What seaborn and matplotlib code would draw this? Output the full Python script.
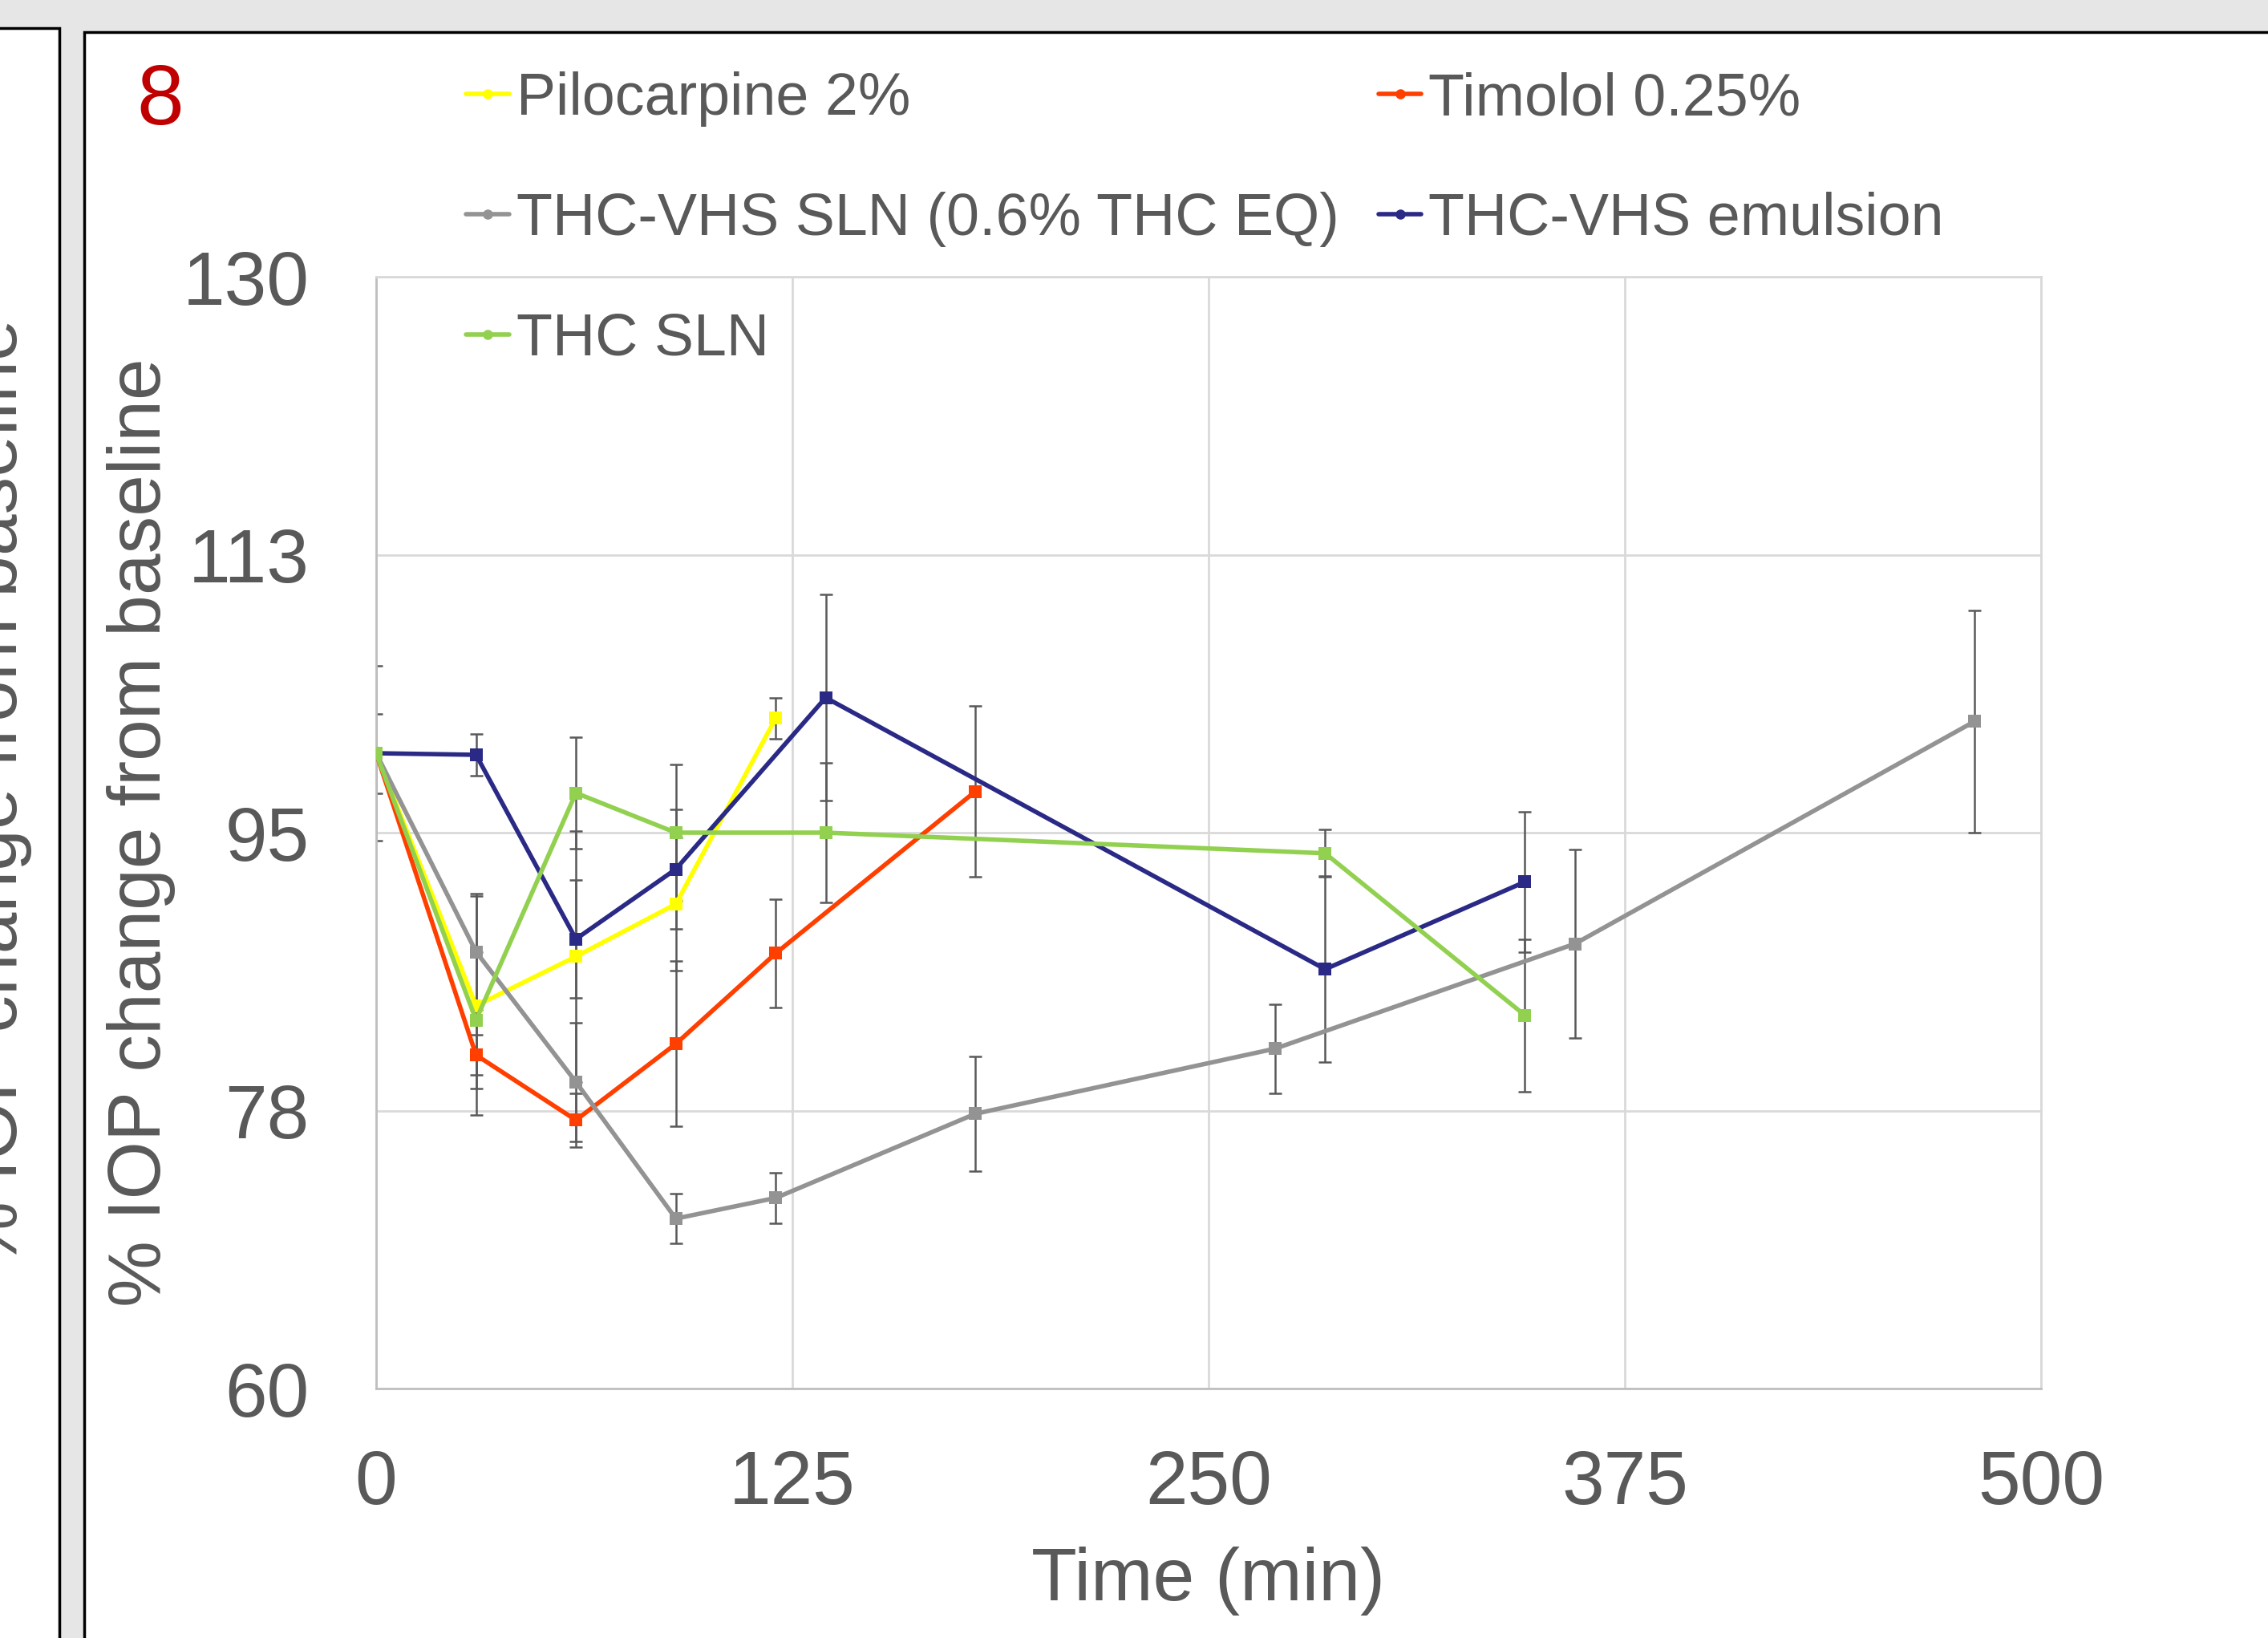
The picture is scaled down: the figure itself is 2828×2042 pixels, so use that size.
import numpy as np
import pandas as pd
import matplotlib
matplotlib.use("Agg")
import matplotlib.pyplot as plt
import seaborn as sns
from matplotlib.patches import Rectangle
from matplotlib.lines import Line2D

# Data (% IOP change from baseline vs time in min)

series_names = ["Pilocarpine 2%", "Timolol 0.25%", "THC-VHS SLN (0.6% THC EQ)",
                "THC-VHS emulsion", "THC SLN"]
series_colors = ["#FFFF00", "#FF3F00", "#939393", "#2A2A86", "#92D050"]

time_pilo = [0, 30, 60, 90, 120]
iop_pilo = [100, 84.1, 87.2, 90.5, 102.2]
sd_pilo = [0, 6.9, 7.9, 4.2, 1.3]

time_timolol = [0, 30, 60, 90, 120, 180]
iop_timolol = [100, 81.0, 76.9, 81.7, 87.4, 97.6]
sd_timolol = [0, 1.25, 1.7, 5.2, 3.4, 5.4]

time_vhs_sln = [0, 30, 60, 90, 120, 180, 270, 360, 480]
iop_vhs_sln = [100, 87.5, 79.3, 70.7, 72.0, 77.3, 81.4, 88.0, 102.0]
sd_vhs_sln = [5.5, 3.65, 3.75, 1.55, 1.6, 3.6, 2.8, 5.95, 7.0]

time_emulsion = [0, 30, 60, 90, 135, 285, 345]
iop_emulsion = [100, 99.9, 88.3, 92.7, 103.5, 86.4, 91.9]
sd_emulsion = [2.5, 1.3, 3.7, 3.75, 6.5, 5.85, 4.4]

time_thc_sln = [0, 30, 60, 90, 135, 285, 345]
iop_thc_sln = [100, 83.2, 97.5, 95.0, 95.0, 93.7, 83.5]
sd_thc_sln = [0, 4.3, 3.5, 4.3, 4.4, 1.5, 4.8]

x_ticks = [0, 125, 250, 375, 500]
y_ticks = [60, 77.5, 95, 112.5, 130]
y_tick_labels = ["60", "78", "95", "113", "130"]

# Build long table

all_times = [time_pilo, time_timolol, time_vhs_sln, time_emulsion, time_thc_sln]
all_iop = [iop_pilo, iop_timolol, iop_vhs_sln, iop_emulsion, iop_thc_sln]
all_sd = [sd_pilo, sd_timolol, sd_vhs_sln, sd_emulsion, sd_thc_sln]

rows = []
for name, ts, vs, es in zip(series_names, all_times, all_iop, all_sd):
    for t, v, e in zip(ts, vs, es):
        rows.append({"series": name, "time": t, "iop": v, "sd": e})
df = pd.DataFrame(rows)

sns.set_style("white")
plt.rcParams["font.family"] = ["Liberation Sans", "DejaVu Sans"]

text_color = "#595959"
W, H = 2828, 2042

fig = plt.figure(figsize=(W / 100, H / 100), dpi=100, facecolor="#e6e6e6")

# panel backgrounds (left neighbour panel is cut off)
fig.add_artist(Rectangle((-0.01, -0.01), 0.01 + 74 / W, 1.01 - 35 / H,
                         transform=fig.transFigure, facecolor="white",
                         edgecolor="black", lw=2.5, zorder=-10))
fig.add_artist(Rectangle((105 / W, -0.01), 1.0, 1.01 - 40 / H,
                         transform=fig.transFigure, facecolor="white",
                         edgecolor="black", lw=2.5, zorder=-10))

fig.text(-3 / W, 1 - 989 / H, "% IOP change from baseline", rotation=90,
         ha="center", va="center", fontsize=67, color=text_color)
fig.text(200 / W, 1 - 128 / H, "8", color="#C00000", fontsize=76,
         ha="center", va="center")

ax = fig.add_axes([469 / W, 1 - 1731 / H, 2076 / W, 1386 / H])
ax.set_facecolor("white")

# Error bars

for name in series_names:
    sub = df[(df["series"] == name) & (df["sd"] > 0)]
    ax.errorbar(sub["time"], sub["iop"], yerr=sub["sd"], fmt="none",
                ecolor="#595959", elinewidth=1.8, capsize=6, capthick=1.8,
                zorder=2)

# Lines

sns.lineplot(data=df, x="time", y="iop", hue="series", hue_order=series_names,
             palette=series_colors, marker="s", markersize=11,
             markeredgewidth=0, linewidth=4, sort=False, errorbar=None,
             legend=False, ax=ax, zorder=3)

ax.set_xlim(0, 500)
ax.set_ylim(60, 130)
ax.set_xticks(x_ticks)
ax.set_yticks(y_ticks)
ax.set_yticklabels(y_tick_labels)
ax.tick_params(axis="both", length=0, labelsize=68, colors=text_color)
ax.tick_params(axis="x", pad=54)
ax.tick_params(axis="y", pad=60)

ax.grid(True, color="#d9d9d9", lw=2)
ax.set_axisbelow(True)
for s in ax.spines.values():
    s.set_color("#d9d9d9")
    s.set_linewidth(2)
ax.spines["left"].set_color("#bfbfbf")
ax.spines["bottom"].set_color("#bfbfbf")

ax.set_xlabel("Time (min)", fontsize=67, color=text_color, va="center")
ax.xaxis.set_label_coords(0.5, (1731 - 1971) / 1386)
ax.set_ylabel("% IOP change from baseline", fontsize=67, color=text_color,
              va="center")
ax.yaxis.set_label_coords((176 - 469) / 2076, 0.5)

# Legend: column-major order to get the row layout of the original

order = [0, 2, 4, 1, 3]
handles = [Line2D([], [], color=series_colors[i], lw=4, marker="o",
                  markersize=8) for i in order]
labels = [series_names[i] for i in order]
ax.legend(handles, labels, ncol=2, loc="upper left",
          bbox_to_anchor=(581 / W, 1 - 89 / H), bbox_transform=fig.transFigure,
          frameon=False, fontsize=53, handlelength=0.73, handletextpad=0.12,
          columnspacing=0.67, labelspacing=1.10, borderpad=0, borderaxespad=0,
          labelcolor=text_color)

fig.savefig("out.png", dpi=100, facecolor=fig.get_facecolor())
